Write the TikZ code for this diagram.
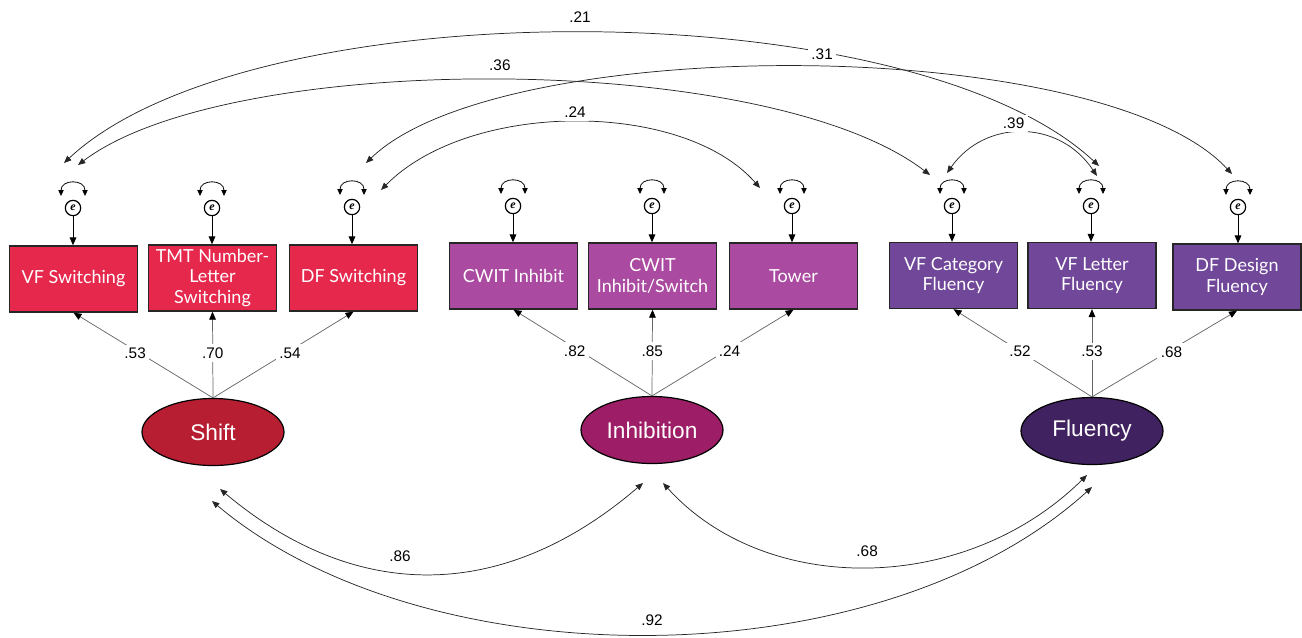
\documentclass[tikz,border=0pt]{standalone}
\usepackage{fontspec}
\setmainfont{Liberation Sans}
\newfontfamily\boxfont{Lato}
\newfontfamily\errfont{Liberation Serif}
\usetikzlibrary{arrows.meta,shapes.geometric,calc}

\definecolor{boxred}{RGB}{230,40,77}
\definecolor{boxmag}{RGB}{170,74,160}
\definecolor{boxpur}{RGB}{113,71,154}
\definecolor{latred}{RGB}{183,30,50}
\definecolor{latmag}{RGB}{157,30,102}
\definecolor{latpur}{RGB}{64,34,96}

\tikzset{every picture/.style={line width=0.75pt}}
\tikzset{
  obsbox/.style={draw=black!85, line width=1pt, text=white, minimum width=96pt, minimum height=49.5pt, inner sep=0pt, align=center, font=\boxfont\fontsize{13.5}{15.5}\selectfont},
  latent/.style={ellipse, draw=black, line width=0.9pt, text=white, minimum width=106.5pt, minimum height=50.25pt, inner sep=0pt, font=\fontsize{17}{20}\selectfont},
  errnode/.style={circle, draw=black, line width=0.9pt, minimum size=11.5pt, inner sep=0pt, fill=white, font=\errfont\bfseries\itshape\fontsize{9}{9}\selectfont},
  coef/.style={fill=white, inner sep=2.5pt, font=\fontsize{11.5}{13}\selectfont},
  path/.style={-{Triangle[length=6pt,width=5pt]}, line width=0.75pt},
  loading/.style={-{Triangle[length=6pt,width=5pt,color=black]}, draw=black!60, line width=0.55pt},
  cov/.style={{Triangle[length=5.5pt,width=4.5pt]}-{Triangle[length=5.5pt,width=4.5pt]}, draw=black!85, line width=0.55pt},
  selfloop/.style={{Triangle[length=4.5pt,width=4pt]}-{Triangle[length=4.5pt,width=4pt]}, line width=0.6pt},
}

\begin{document}
\begin{tikzpicture}[x=0.75pt,y=0.75pt,yscale=-1,xscale=1]
\useasboundingbox (0,0) rectangle (1302,637);

%Shape: Rect [observed]
\node[obsbox, fill=boxred] (vfs) at (73.5,279) {VF Switching};
\node[obsbox, fill=boxred] (tmt) at (212.5,278) {TMT Number-\\Letter\\Switching};
\node[obsbox, fill=boxred] (dfs) at (353.5,278) {DF Switching};
\node[obsbox, fill=boxmag] (cwi) at (513.5,276) {CWIT Inhibit};
\node[obsbox, fill=boxmag] (cwis) at (652.5,276) {CWIT\\Inhibit/Switch};
\node[obsbox, fill=boxmag] (tow) at (793.5,276) {Tower};
\node[obsbox, fill=boxpur] (vfc) at (953.5,275.5) {VF Category\\Fluency};
\node[obsbox, fill=boxpur] (vfl) at (1092,275.5) {VF Letter\\Fluency};
\node[obsbox, fill=boxpur] (dfd) at (1237,277) {DF Design\\Fluency};

%Shape: Circle [errors]
\node[errnode] (e1) at (73,208) {e};
\node[errnode] (e2) at (212,208) {e};
\node[errnode] (e3) at (352,207) {e};
\node[errnode] (e4) at (513,206) {e};
\node[errnode] (e5) at (652,206) {e};
\node[errnode] (e6) at (792,206) {e};
\node[errnode] (e7) at (952,206) {e};
\node[errnode] (e8) at (1091,206) {e};
\node[errnode] (e9) at (1238,207) {e};

%Shape: Ellipse [latent]
\node[latent, fill=latred] (shift) at (213,432) {Shift};
\node[latent, fill=latmag] (inhib) at (652,430) {Inhibition};
\node[latent, fill=latpur] (flu) at (1092,431) {Fluency};

%Straight Lines [error -> indicator]
\draw[path] (e1.south) -- (e1.south |- vfs.north);
\draw[path] (e2.south) -- (e2.south |- tmt.north);
\draw[path] (e3.south) -- (e3.south |- dfs.north);
\draw[path] (e4.south) -- (e4.south |- cwi.north);
\draw[path] (e5.south) -- (e5.south |- cwis.north);
\draw[path] (e6.south) -- (e6.south |- tow.north);
\draw[path] (e7.south) -- (e7.south |- vfc.north);
\draw[path] (e8.south) -- (e8.south |- vfl.north);
\draw[path] (e9.south) -- (e9.south |- dfd.north);

%Curve Lines [error variances]
\draw[selfloop] ($(e1)+(-12,-12)$) .. controls +(0,-17) and +(0,-17) .. ($(e1)+(12,-12)$);
\draw[selfloop] ($(e2)+(-12,-12)$) .. controls +(0,-17) and +(0,-17) .. ($(e2)+(12,-12)$);
\draw[selfloop] ($(e3)+(-12,-12)$) .. controls +(0,-17) and +(0,-17) .. ($(e3)+(12,-12)$);
\draw[selfloop] ($(e4)+(-12,-12)$) .. controls +(0,-17) and +(0,-17) .. ($(e4)+(12,-12)$);
\draw[selfloop] ($(e5)+(-12,-12)$) .. controls +(0,-17) and +(0,-17) .. ($(e5)+(12,-12)$);
\draw[selfloop] ($(e6)+(-12,-12)$) .. controls +(0,-17) and +(0,-17) .. ($(e6)+(12,-12)$);
\draw[selfloop] ($(e7)+(-12,-12)$) .. controls +(0,-17) and +(0,-17) .. ($(e7)+(12,-12)$);
\draw[selfloop] ($(e8)+(-12,-12)$) .. controls +(0,-17) and +(0,-17) .. ($(e8)+(12,-12)$);
\draw[selfloop] ($(e9)+(-12,-12)$) .. controls +(0,-17) and +(0,-17) .. ($(e9)+(12,-12)$);

%Straight Lines [loadings]
\draw[loading] (shift.north) -- node[coef, pos=0.52, xshift=-4pt]{.53} (vfs.south);
\draw[loading] (shift.north) -- node[coef, pos=0.52]{.70} (tmt.south);
\draw[loading] (shift.north) -- node[coef, pos=0.52, xshift=3pt]{.54} (dfs.south);
\draw[loading] (inhib.north) -- node[coef, pos=0.52, xshift=-4pt]{.82} (cwi.south);
\draw[loading] (inhib.north) -- node[coef, pos=0.52]{.85} (cwis.south);
\draw[loading] (inhib.north) -- node[coef, pos=0.52, xshift=3pt]{.24} (tow.south);
\draw[loading] (flu.north) -- node[coef, pos=0.52]{.52} (vfc.south);
\draw[loading] (flu.north) -- node[coef, pos=0.52]{.53} (vfl.south);
\draw[loading] (flu.north) -- node[coef, pos=0.52, xshift=3pt]{.68} (dfd.south);

% error covariance ends
\coordinate (a1) at ($(e1)+(-9,-45)$);
\coordinate (b1) at ($(e1)+(5,-43)$);
\coordinate (c1) at ($(e3)+(14,-44)$);
\coordinate (d1) at ($(e3)+(29,-17)$);
\coordinate (d2) at ($(e6)+(-32,-18)$);
\coordinate (b2) at ($(e7)+(-22,-31)$);
\coordinate (g1) at ($(e7)+(-5,-33)$);
\coordinate (a2) at ($(e8)+(8,-40)$);
\coordinate (g2) at ($(e8)+(6,-30)$);
\coordinate (c2) at ($(e9)+(-6,-33)$);

%Curve Lines [error covariances]
\draw[cov] (a1) .. controls (250,-11) and (909,-11) .. (a2) node[coef, pos=0.5, above=5pt]{.21};
\draw[cov] (b1) .. controls (230,50) and (767,50) .. (b2) node[coef, pos=0.5, above=4pt]{.36};
\draw[cov] (d1) .. controls (470,100) and (683,100) .. (d2) node[coef, pos=0.5, above=0.5pt]{.24};
\draw[cov] (c1) .. controls (500,33) and (1101,33) .. (c2) node[coef, pos=0.52, above=3pt]{.31};
\draw[cov] (g1) .. controls (985,119) and (1059,119) .. (g2) node[coef, pos=0.45, above=0.5pt]{.39};

% latent covariance ends
\coordinate (s1) at ($(shift)+(7,57)$);
\coordinate (s2) at ($(shift)+(-1,69)$);
\coordinate (i1) at ($(inhib)+(-9,53)$);
\coordinate (i2) at ($(inhib)+(11,53)$);
\coordinate (u1) at ($(flu)+(-5,44)$);
\coordinate (u2) at ($(flu)+(0,56)$);

%Curve Lines [latent covariances]
\draw[cov] (s1) .. controls (356,603) and (503,603) .. (i1) node[coef, pos=0.43, above=5pt]{.86};
\draw[cov] (i2) .. controls (765,596) and (964,596) .. (u1) node[coef, pos=0.5, above=5pt]{.68};
\draw[cov] (s2) .. controls (426,681) and (878,681) .. (u2) node[coef, pos=0.5, above=4pt]{.92};

\end{tikzpicture}
\end{document}
